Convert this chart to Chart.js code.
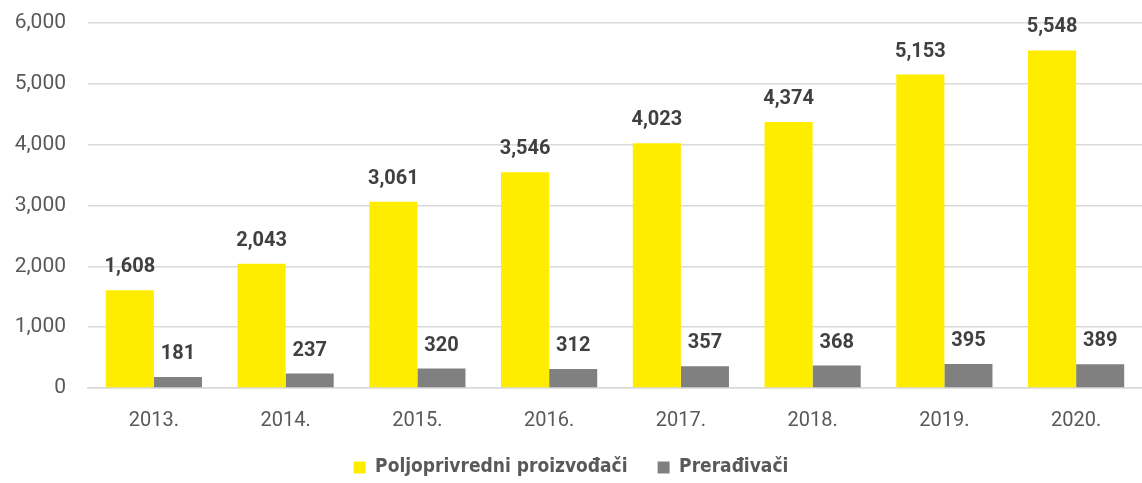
<!DOCTYPE html>
<html>
<head>
<meta charset="utf-8">
<script src="https://cdn.jsdelivr.net/npm/chart.js@4/dist/chart.umd.min.js"></script>
<style>
  html, body { margin: 0; padding: 0; background: #fff; }
  #wrap { width: 1142px; height: 483px; position: relative; }
</style>
</head>
<body>
<div id="wrap"><canvas id="chart"></canvas></div>
<script>
const years = ['2013.', '2014.', '2015.', '2016.', '2017.', '2018.', '2019.', '2020.'];
const producers = [1608, 2043, 3061, 3546, 4023, 4374, 5153, 5548];
const processors = [181, 237, 320, 312, 357, 368, 395, 389];
const seriesNames = ['Poljoprivredni proizvođači', 'Prerađivači'];

function formatNumber(num) {
  return num.toString().replace(/\B(?=(\d{3})+(?!\d))/g, ',');
}

// Draw value labels above each bar
const valueLabels = {
  id: 'valueLabels',
  afterDatasetsDraw(chart) {
    const ctx = chart.ctx;
    ctx.save();
    ctx.font = 'bold 20px Roboto';
    ctx.fillStyle = '#404040';
    ctx.textAlign = 'center';
    ctx.textBaseline = 'bottom';
    chart.data.datasets.forEach((ds, i) => {
      chart.getDatasetMeta(i).data.forEach((bar, j) => {
        ctx.fillText(formatNumber(ds.data[j]), bar.x, bar.y - 13);
      });
    });
    ctx.restore();
  }
};

const ctx = document.getElementById('chart').getContext('2d');
new Chart(ctx, {
  type: 'bar',
  data: {
    labels: years,
    datasets: [
      { label: seriesNames[0], data: producers, backgroundColor: '#FFED00' },
      { label: seriesNames[1], data: processors, backgroundColor: '#808080' }
    ]
  },
  options: {
    responsive: true,
    maintainAspectRatio: false,
    animation: false,
    layout: { autoPadding: false, padding: { left: 0, right: 0, top: 23, bottom: -4 } },
    datasets: {
      bar: { categoryPercentage: 0.73, barPercentage: 1.0 }
    },
    scales: {
      x: {
        afterFit: (scale) => { scale.height = 40; scale.paddingLeft = 0; scale.paddingRight = 0; },
        grid: { display: false },
        border: { color: '#D9D9D9', width: 1.5 },
        ticks: { color: '#595959', font: { family: 'Roboto', size: 20 }, padding: 13 }
      },
      y: {
        min: 0,
        max: 6000,
        afterFit: (scale) => { scale.width = 88; scale.paddingTop = 0; scale.paddingBottom = 0; },
        ticks: {
          stepSize: 1000,
          color: '#595959',
          font: { family: 'Roboto', size: 21 },
          padding: 22,
          callback: (v) => formatNumber(v)
        },
        grid: { color: '#D9D9D9', lineWidth: 1.5, drawTicks: false },
        border: { display: false }
      }
    },
    plugins: {
      legend: {
        position: 'bottom',
        labels: {
          boxWidth: 12,
          boxHeight: 12,
          padding: 30,
          color: '#595959',
          font: { family: 'DejaVu Sans Condensed', size: 19, weight: 'bold' }
        }
      },
      tooltip: { enabled: false }
    }
  },
  plugins: [valueLabels]
});
</script>
</body>
</html>
